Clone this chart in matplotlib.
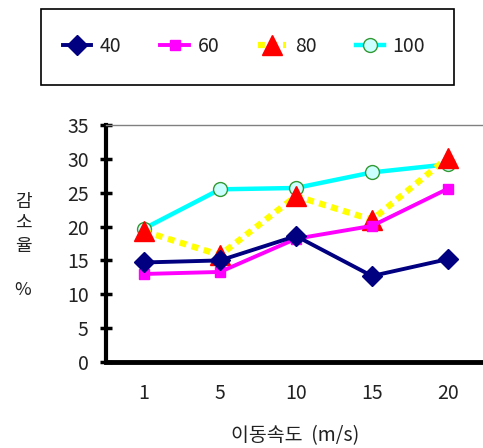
import matplotlib
matplotlib.use("Agg")
import matplotlib.pyplot as plt

plt.rcParams['font.family'] = ['Noto Sans CJK KR', 'DejaVu Sans']

speeds = ["1", "5", "10", "15", "20"]
s40 = [14.7, 15.0, 18.6, 12.7, 15.2]
s60 = [13.0, 13.3, 18.2, 20.1, 25.6]
s80 = [19.3, 15.8, 24.5, 21.0, 30.2]
s100 = [19.7, 25.5, 25.7, 28.0, 29.2]
series_names = ["40", "60", "80", "100"]
y_ticks = [0, 5, 10, 15, 20, 25, 30, 35]

W, H = 483, 448
fig = plt.figure(figsize=(W / 100, H / 100), dpi=100)
ax = fig.add_axes([106 / W, 1 - 362 / H, (486 - 106) / W, (362 - 125) / H])

x = list(range(len(speeds)))
l100, = ax.plot(x, s100, color="#00ffff", lw=3.2, marker="o", ms=10,
                mfc="#ccffff", mec="#339933", mew=1.0, zorder=3, clip_on=False)
l80, = ax.plot(x, s80, color="#ffff00", lw=4.5, ls=(0, (1.1, 0.9)),
               marker="^", ms=15, mfc="#ff0000", mec="#ff0000", zorder=4,
               clip_on=False)
l60, = ax.plot(x, s60, color="#ff00ff", lw=2.8, marker="s", ms=7.5,
               mfc="#ff00ff", mec="#ff00ff", zorder=5, clip_on=False)
l40, = ax.plot(x, s40, color="#000080", lw=2.8, marker="D", ms=10,
               mfc="#000080", mec="#000080", zorder=6, clip_on=False)

ax.set_xlim(-0.5, len(speeds) - 0.5)
ax.set_ylim(0, 35)
ax.set_xticks(x)
ax.set_xticklabels(speeds)
ax.set_yticks(y_ticks)
ax.tick_params(axis="x", length=0, pad=15, labelsize=14, colors="#222222")
ax.tick_params(axis="y", direction="inout", length=9, width=2.5,
               labelsize=14, pad=8, colors="black", labelcolor="#222222")

ax.spines["left"].set_linewidth(3)
ax.spines["bottom"].set_linewidth(3.5)
ax.spines["top"].set_linewidth(1)
ax.spines["top"].set_color("#808080")
ax.spines["right"].set_visible(False)

# y-axis title: vertically stacked Hangul, then the unit
for i, ch in enumerate("감소율"):
    fig.text(23 / W, 1 - (202 + i * 22) / H, ch, ha="center", va="center",
             fontsize=13, color="#222222")
fig.text(23 / W, 1 - 290 / H, "%", ha="center", va="center",
         fontsize=13, color="#222222")

fig.text(295 / W, 1 - 436 / H, "이동속도  (m/s)", ha="center", va="center",
         fontsize=14, color="#222222")

# legend in a framed box at the top
box = plt.Rectangle((41 / W, 1 - 85 / H), (454 - 41) / W, (85 - 9) / H,
                    transform=fig.transFigure, fill=False, ec="black",
                    lw=1.2)
fig.add_artist(box)
handles = [l40, l60, l80, l100]
leg = fig.legend(handles, series_names, loc="center left",
                 bbox_to_anchor=(63 / W, 1 - 46 / H), ncol=4, frameon=False,
                 fontsize=14, handlelength=1.45, columnspacing=2.0,
                 handletextpad=0.45, labelcolor="#222222",
                 borderpad=0, borderaxespad=0)

fig.savefig("out.png", dpi=100)
